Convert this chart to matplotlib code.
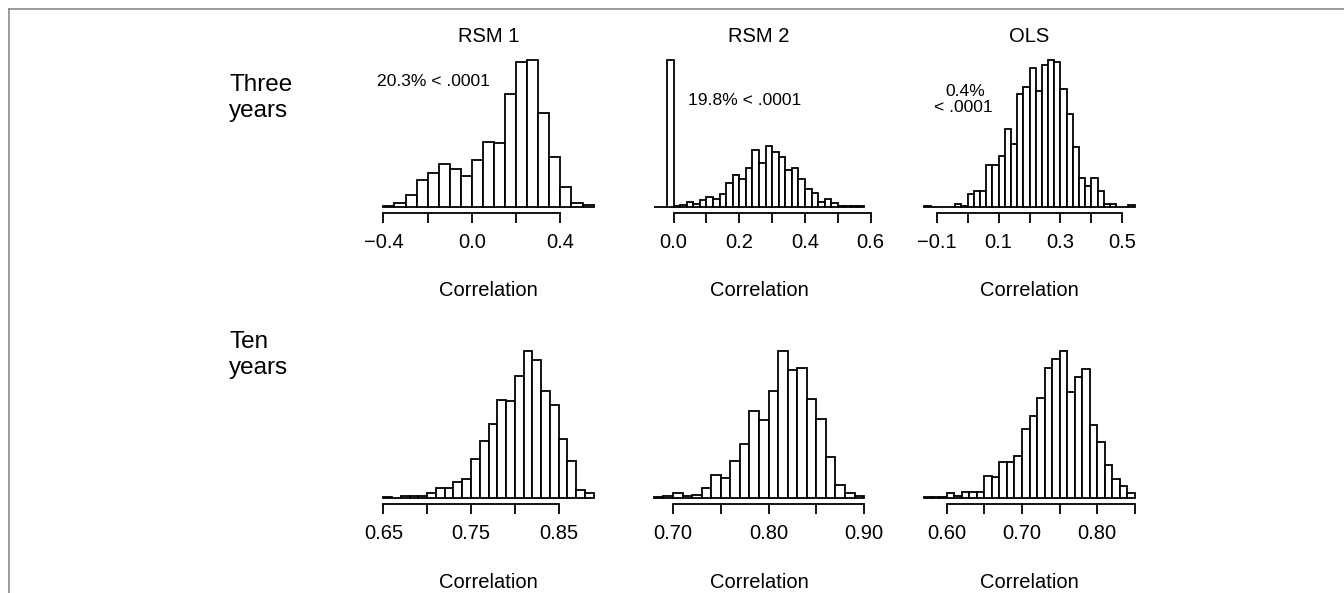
import numpy as np
import matplotlib
matplotlib.use("Agg")
import matplotlib.pyplot as plt
from matplotlib.lines import Line2D

plt.rcParams['font.family'] = ['Liberation Sans', 'DejaVu Sans']

# histogram data: first break, bin width, counts
rsm1_3y_start, rsm1_3y_width = -0.40, 0.05
rsm1_3y_counts = [2, 12, 37, 82, 102, 130, 115, 94, 142, 195, 192, 340,
                  437, 442, 284, 149, 59, 13, 5]

rsm2_3y_start, rsm2_3y_width = -0.06, 0.02
rsm2_3y_counts = [1, 1, 444, 4, 7, 14, 9, 22, 30, 24, 40, 74, 96, 86, 119,
                  172, 132, 184, 167, 150, 112, 119, 86, 54, 42, 16, 24, 12,
                  4, 2, 2, 4]

ols_3y_start, ols_3y_width = -0.14, 0.02
ols_3y_counts = [4, 0, 0, 0, 0, 8, 4, 40, 49, 49, 125, 125, 154, 234, 190,
                 340, 360, 417, 350, 427, 442, 437, 354, 280, 180, 87, 62,
                 87, 47, 9, 9, 0, 0, 5]

rsm1_10y_start, rsm1_10y_width = 0.65, 0.01
rsm1_10y_counts = [3, 1, 7, 7, 7, 14, 31, 31, 49, 58, 118, 173, 225, 296,
                   293, 368, 445, 416, 323, 281, 178, 111, 24, 15]

rsm2_10y_start, rsm2_10y_width = 0.68, 0.01
rsm2_10y_counts = [2, 7, 16, 6, 10, 29, 68, 60, 112, 162, 262, 234, 322, 442,
                   384, 390, 297, 239, 122, 39, 15, 5]

ols_10y_start, ols_10y_width = 0.57, 0.01
ols_10y_counts = [4, 2, 4, 14, 5, 17, 17, 17, 68, 64, 110, 110, 127, 208, 246,
                  301, 393, 418, 443, 318, 363, 388, 220, 168, 101, 58, 35, 14]

col_titles = ['RSM 1', 'RSM 2', 'OLS']
row_labels = ['Three\nyears', 'Ten\nyears']

ticks_rsm1_3y = [-0.4, -0.2, 0.0, 0.2, 0.4]
labels_rsm1_3y = ['\u22120.4', '', '0.0', '', '0.4']
ticks_rsm2_3y = [0.0, 0.1, 0.2, 0.3, 0.4, 0.5, 0.6]
labels_rsm2_3y = ['0.0', '', '0.2', '', '0.4', '', '0.6']
ticks_ols_3y = [-0.1, 0.0, 0.1, 0.2, 0.3, 0.4, 0.5]
labels_ols_3y = ['\u22120.1', '', '0.1', '', '0.3', '', '0.5']
ticks_rsm1_10y = [0.65, 0.70, 0.75, 0.80, 0.85]
labels_rsm1_10y = ['0.65', '', '0.75', '', '0.85']
ticks_rsm2_10y = [0.70, 0.75, 0.80, 0.85, 0.90]
labels_rsm2_10y = ['0.70', '', '0.80', '', '0.90']
ticks_ols_10y = [0.60, 0.65, 0.70, 0.75, 0.80, 0.85]
labels_ols_10y = ['0.60', '', '0.70', '', '0.80', '']

# text notes: list of (text, x in data units, y as fraction of tallest bar)
note_rsm1 = [('20.3% < .0001', -0.175, 0.85)]
note_rsm2 = [('19.8% < .0001', 0.215, 0.725)]
note_ols = [('0.4%', -0.009, 0.786), ('< .0001', -0.015, 0.675)]

panels = [
    (rsm1_3y_start, rsm1_3y_width, rsm1_3y_counts, ticks_rsm1_3y, labels_rsm1_3y, note_rsm1),
    (rsm2_3y_start, rsm2_3y_width, rsm2_3y_counts, ticks_rsm2_3y, labels_rsm2_3y, note_rsm2),
    (ols_3y_start, ols_3y_width, ols_3y_counts, ticks_ols_3y, labels_ols_3y, note_ols),
    (rsm1_10y_start, rsm1_10y_width, rsm1_10y_counts, ticks_rsm1_10y, labels_rsm1_10y, []),
    (rsm2_10y_start, rsm2_10y_width, rsm2_10y_counts, ticks_rsm2_10y, labels_rsm2_10y, []),
    (ols_10y_start, ols_10y_width, ols_10y_counts, ticks_ols_10y, labels_ols_10y, []),
]

W, H = 1344, 593
fig = plt.figure(figsize=(W / 100, H / 100), dpi=100)

lw = 1.3
fs = 14.5
px = 0.72  # points per pixel at 100 dpi

col_left = [375, 645.5, 916]
row_top = [54, 345]
ax_w, ax_h = 227, 159

for i, (start, width, counts, ticks, labels, notes) in enumerate(panels):
    r, c = divmod(i, 3)
    ax = fig.add_axes([col_left[c] / W, 1 - (row_top[r] + ax_h) / H, ax_w / W, ax_h / H])
    counts = np.array(counts, dtype=float)
    edges = start + width * np.arange(len(counts) + 1)
    ax.bar(edges[:-1], counts, width=width, align='edge', facecolor='white',
           edgecolor='black', linewidth=lw)
    lo, hi = edges[0], edges[-1]
    pad = 0.04 * (hi - lo)
    ax.set_xlim(lo - pad, hi + pad)
    top = counts.max()
    ax.set_ylim(-0.04 * top, 1.04 * top)

    for s in ['top', 'right', 'left']:
        ax.spines[s].set_visible(False)
    ax.spines['bottom'].set_linewidth(lw)
    ax.spines['bottom'].set_bounds(ticks[0], ticks[-1])
    ax.set_yticks([])
    ax.set_xticks(ticks)
    ax.set_xticklabels(labels)
    ax.tick_params(axis='x', direction='out', length=10 * px, width=lw,
                   labelsize=fs, pad=7.5)
    ax.patch.set_visible(False)

    ax.annotate('Correlation', xy=(0.5, 0), xycoords='axes fraction',
                xytext=(0, -78 * px), textcoords='offset points',
                ha='center', va='center', fontsize=fs)
    if r == 0:
        ax.annotate(col_titles[c], xy=(0.5, 1), xycoords='axes fraction',
                    xytext=(0, 17 * px), textcoords='offset points',
                    ha='center', va='center', fontsize=fs)
    for txt, nx, ny in notes:
        ax.text(nx, ny * top, txt, ha='center', va='center', fontsize=12.6)

# row labels
fig.text(229 / W, 1 - 98 / H, row_labels[0], ha='left', va='center',
         fontsize=17.5, linespacing=1.2)
fig.text(229 / W, 1 - 355 / H, row_labels[1], ha='left', va='center',
         fontsize=17.5, linespacing=1.2)

# gray frame (open at right and bottom)
fig.add_artist(Line2D([9 / W, 9 / W], [0, 1 - 9 / H], color='#8a8a8a', lw=1.2))
fig.add_artist(Line2D([9 / W, 1], [1 - 9 / H, 1 - 9 / H], color='#8a8a8a', lw=1.2))

fig.savefig('out.png', dpi=100)
